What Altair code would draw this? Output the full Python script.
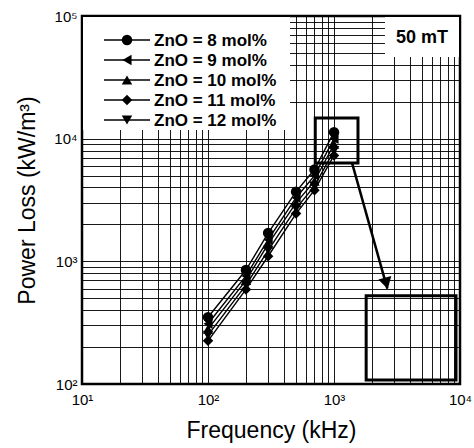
import altair as alt
import pandas as pd

# ---- data ----
freq = [100, 200, 300, 500, 700, 1000]  # kHz
series_names = ["ZnO = 8 mol%", "ZnO = 9 mol%", "ZnO = 10 mol%", "ZnO = 11 mol%", "ZnO = 12 mol%"]
loss_8 = [350, 850, 1700, 3700, 5600, 11300]
loss_9 = [310, 760, 1500, 3300, 5000, 10000]
loss_10 = [280, 700, 1380, 3000, 4500, 9000]
loss_11 = [225, 590, 1100, 2450, 3800, 7300]
loss_12 = [250, 640, 1230, 2700, 4100, 8000]
shapes = ["circle", "triangle-left", "triangle-up", "diamond", "triangle-down"]

# annotation (data units)
small_box = {"x": 710, "x2": 1550, "y": 14750, "y2": 6340}
big_box = {"x": 1800, "x2": 9300, "y": 525, "y2": 108}
arrow = {"x": 1390, "y": 6340, "x2": 2650, "y2": 600}
arrow_head = {"x": 2600, "y": 660}

rows = []
for name, vals in zip(series_names, [loss_8, loss_9, loss_10, loss_11, loss_12]):
    for f, v in zip(freq, vals):
        rows.append({"series": name, "f": f, "p": v})
df = pd.DataFrame(rows)

decades_x = [10, 100, 1000]
decades_y = [100, 1000, 10000]
xvals = [d * k for d in decades_x for k in range(1, 10)] + [10000]
yvals = [d * k for d in decades_y for k in range(1, 10)] + [100000]

label_expr = ("abs(log(datum.value)/LN10 - round(log(datum.value)/LN10)) < 0.000001 ? "
              "'10' + ['⁰','¹','²','³','⁴','⁵'][round(log(datum.value)/LN10)] : ''")

xscale = alt.Scale(type="log", domain=[10, 10000], nice=False)
yscale = alt.Scale(type="log", domain=[100, 100000], nice=False)

X = alt.X("f:Q", scale=xscale, title="Frequency (kHz)",
          axis=alt.Axis(values=xvals, labelExpr=label_expr, ticks=False, grid=True,
                        gridColor="black", gridOpacity=0.9, gridWidth=1,
                        labelFontSize=15, labelPadding=8, titleFontSize=23,
                        titlePadding=12, titleFontWeight="normal", domain=False,
                        labelFlush=False))
Y = alt.Y("p:Q", scale=yscale, title="Power Loss (kW/m³)",
          axis=alt.Axis(values=yvals, labelExpr=label_expr, ticks=False, grid=True,
                        gridColor="black", gridOpacity=0.9, gridWidth=1,
                        labelFontSize=15, labelPadding=5, titleFontSize=23,
                        titlePadding=14, titleFontWeight="normal", domain=False,
                        labelFlush=False))

shape_scale = alt.Scale(domain=series_names, range=shapes)

base = alt.Chart(df)
lines = base.mark_line(color="black", strokeWidth=1.4).encode(
    x=X, y=Y, detail="series:N")
points = base.mark_point(filled=True, color="black", size=110, opacity=1).encode(
    x=alt.X("f:Q", scale=xscale), y=alt.Y("p:Q", scale=yscale),
    shape=alt.Shape("series:N", scale=shape_scale, legend=None))

# white backgrounds for legend and field label
bg_legend = alt.Chart(pd.DataFrame({"a": [0]})).mark_rect(color="white").encode(
    x=alt.value(1), x2=alt.value(208), y=alt.value(1), y2=alt.value(114))
bg_label = alt.Chart(pd.DataFrame({"a": [0]})).mark_rect(color="white").encode(
    x=alt.value(303), x2=alt.value(377), y=alt.value(1), y2=alt.value(41))

box_df = pd.DataFrame([small_box, big_box])
boxes = alt.Chart(box_df).mark_rect(filled=False, stroke="black", strokeWidth=3).encode(
    x=alt.X("x:Q", scale=xscale), x2="x2:Q",
    y=alt.Y("y:Q", scale=yscale), y2="y2:Q")

arrow_line = alt.Chart(pd.DataFrame([arrow])).mark_rule(color="black", strokeWidth=2.5).encode(
    x=alt.X("x:Q", scale=xscale), x2="x2:Q",
    y=alt.Y("y:Q", scale=yscale), y2="y2:Q")
arrow_tip = alt.Chart(pd.DataFrame([arrow_head])).mark_point(
    shape="triangle-down", filled=True, color="black", size=180, angle=345, opacity=1).encode(
    x=alt.X("x:Q", scale=xscale), y=alt.Y("y:Q", scale=yscale))

label_50 = alt.Chart(pd.DataFrame({"t": ["50 mT"]})).mark_text(
    fontSize=18, fontWeight="bold", align="center", baseline="middle", color="black").encode(
    x=alt.value(340), y=alt.value(22), text="t:N")

legend_layers = []
for i, (name, shp) in enumerate(zip(series_names, shapes)):
    ly = 24 + 20 * i
    one = alt.Chart(pd.DataFrame({"t": [name]}))
    legend_layers.append(one.mark_rule(color="black", strokeWidth=1.6).encode(
        x=alt.value(22), x2=alt.value(68), y=alt.value(ly)))
    legend_layers.append(one.mark_point(shape=shp, filled=True, color="black",
                                        size=110, opacity=1).encode(
        x=alt.value(45), y=alt.value(ly)))
    legend_layers.append(one.mark_text(fontSize=17, fontWeight="bold", align="left",
                                       baseline="middle", color="black").encode(
        x=alt.value(72), y=alt.value(ly + 1), text="t:N"))

chart = alt.layer(
    bg_legend, bg_label, lines, points, boxes, arrow_line, arrow_tip, label_50,
    *legend_layers
).properties(
    width=378, height=368,
    autosize=alt.AutoSizeParams(type="none"),
    padding={"left": 82, "top": 16, "right": 14, "bottom": 64},
).configure(
    font="Liberation Sans",
    background="white",
).configure_view(
    stroke="black", strokeWidth=2.5
).configure_axis(
    labelColor="black", titleColor="black"
)

chart.save("out.html", embed_options={"renderer": "svg", "actions": False})
